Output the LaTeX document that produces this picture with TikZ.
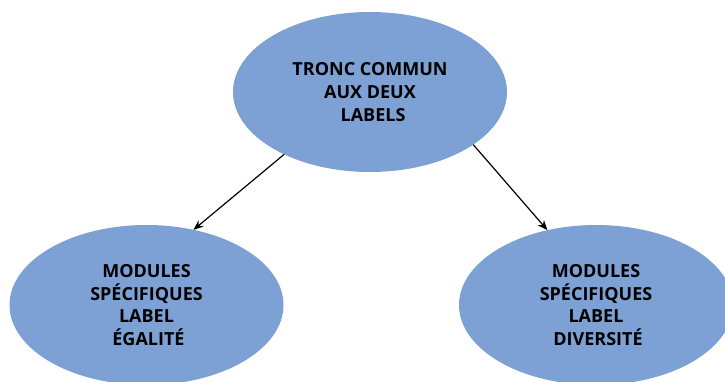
\documentclass[tikz,border=0pt]{standalone}
\usepackage{fontspec}
\setmainfont{Open Sans}
\usetikzlibrary{shapes.geometric,arrows.meta}
\definecolor{bleulabel}{RGB}{125,161,213}
\begin{document}
\begin{tikzpicture}[x=1pt,y=1pt,
		bulle/.style={ellipse,fill=bleulabel,minimum width=274pt,minimum height=160pt,
			inner sep=0pt,outer sep=0pt,align=center,font=\fontsize{18}{22.7}\selectfont\bfseries},
		fleche/.style={-{Stealth[length=10pt,width=8pt]},line width=1.2pt}]
				\clip (0,0) rectangle (725,381);
				\node[bulle] (tronc) at (370,289) {TRONC COMMUN\\AUX DEUX\\\hspace{6pt}LABELS};
				%--
				\node[bulle] (egalite) at (146.5,76) {MODULES\\SPÉCIFIQUES\\LABEL\\\hspace{4pt}ÉGALITÉ};
				\node[bulle] (diversite) at (596,76) {MODULES\\SPÉCIFIQUES\\LABEL\\\hspace{4pt}DIVERSITÉ};
				%--
				\draw[fleche] (tronc.216) -- (egalite.58.5);
				\draw[fleche] (tronc.333) -- (diversite.123);
			\end{tikzpicture}
\end{document}
